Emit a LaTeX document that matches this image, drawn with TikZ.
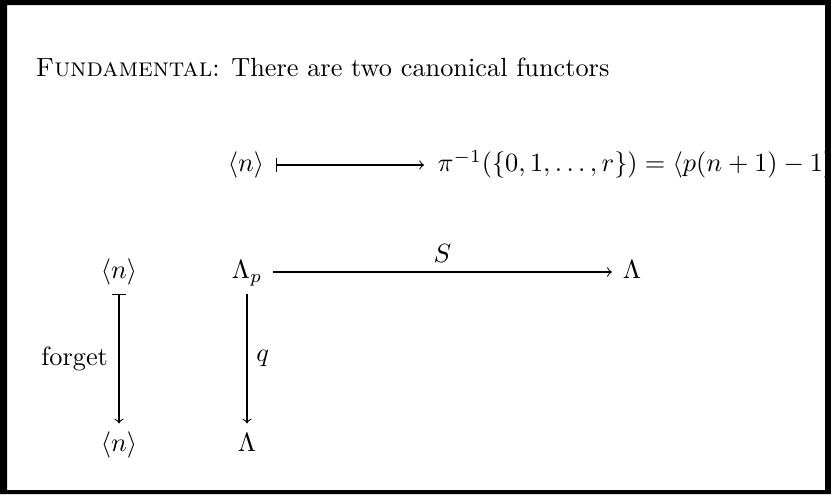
\documentclass[tikz,border=0pt]{standalone}
\usepackage{amsmath,amssymb}
\usepackage{tikz}
\usetikzlibrary{arrows,positioning,calc}

\begin{document}
\begin{tikzpicture}[x=0.3802pt,y=-0.3802pt,
  obj/.style={text height=6.5pt, text depth=1.5pt, inner sep=4pt}]
\useasboundingbox (0,0) rectangle (831,494);
\fill[white] (0,0) rectangle (831,494);
\node[anchor=base west, inner sep=0pt] (title) at (35,76) {\textsc{Fundamental}: There are two canonical functors};
% top row
\node[obj, inner sep=4.2pt] (topn) at (246,165) {$\langle n\rangle$};
\node[obj, anchor=west, inner sep=5pt] (topimg) at (424,165) {$\pi^{-1}(\{0,1,\dots,r\}) = \langle p(n+1)-1\rangle$};
\draw[|->] (topn) -- (topimg);
% square
\node[obj] (n) at (119,272) {$\langle n\rangle$};
\node[obj] (nbot) at (119,445) {$\langle n\rangle$};
\node[obj] (lamp) at (247,272) {$\Lambda_p$};
\node[obj] (lam) at (632,272) {$\Lambda$};
\node[obj] (lambot) at (247,445) {$\Lambda$};
\draw[->] (lamp) -- node[above] {$S$} (lam);
\draw[|->] (n) -- node[left, inner sep=4pt] {forget} (nbot);
\draw[->] (lamp.south -| lambot) -- node[right] {$q$} (lambot);
% frame
\fill[black, even odd rule] (0,0) rectangle (831,494) (7,5) rectangle (825,490);
\end{tikzpicture}
\end{document}
